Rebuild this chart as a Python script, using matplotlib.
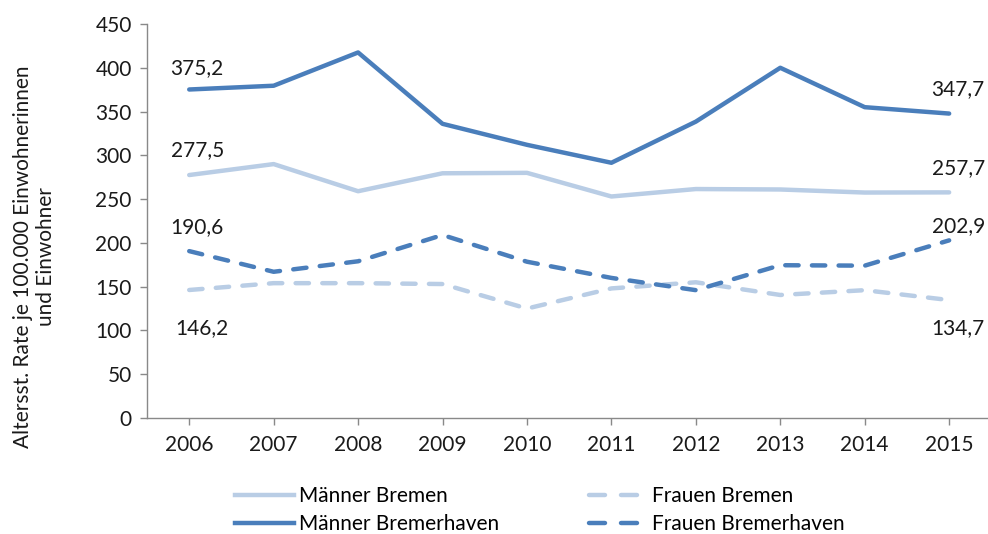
import matplotlib
matplotlib.use('Agg')
import matplotlib.pyplot as plt
from matplotlib.lines import Line2D

years = [2006, 2007, 2008, 2009, 2010, 2011, 2012, 2013, 2014, 2015]

maenner_bremen = [277.5, 290, 259, 279.5, 280, 253, 261.5, 261, 257.5, 257.7]
frauen_bremen = [146.2, 154, 154, 153, 125, 148, 155, 140.5, 146, 134.7]
maenner_bremerhaven = [375.2, 379.5, 417.5, 336, 312, 291.5, 338.5, 400, 355, 347.7]
frauen_bremerhaven = [190.6, 167, 179, 209, 178.5, 160, 146, 174.5, 174, 202.9]

yticks = [0, 50, 100, 150, 200, 250, 300, 350, 400, 450]

dark = '#4a7ebb'
light = '#b9cde5'
grey = '#898989'
txt = '#1a1a1a'

plt.rcParams['font.family'] = ['Lato', 'DejaVu Sans']
fs = 15

fig = plt.figure(figsize=(9.88, 5.34), dpi=100)
ax = fig.add_axes([147 / 988, 1 - 418 / 534, 841 / 988, 394 / 534])

lw = 3.2
dash = (3.0, 3.0)
ax.plot(years, maenner_bremen, color=light, lw=lw, solid_capstyle='round')
ax.plot(years, frauen_bremen, color=light, lw=lw, dashes=dash,
        dash_capstyle='round')
ax.plot(years, maenner_bremerhaven, color=dark, lw=lw, solid_capstyle='round')
ax.plot(years, frauen_bremerhaven, color=dark, lw=lw, dashes=dash,
        dash_capstyle='round')


def fmt(v):
    return f'{v:.1f}'.replace('.', ',')


# start / end labels (offsets in pixels)
start_offsets = [
    (maenner_bremerhaven, 8, 21),
    (maenner_bremen, 8, 25),
    (frauen_bremerhaven, 8, 24),
    (frauen_bremen, 13, -38),
]
for series, dx, dy in start_offsets:
    ax.annotate(fmt(series[0]), (years[0], series[0]), xytext=(dx, dy),
                textcoords='offset pixels', ha='center', va='center',
                fontsize=fs, color=txt)
end_offsets = [
    (maenner_bremerhaven, 9, 24),
    (maenner_bremen, 9, 24),
    (frauen_bremerhaven, 9, 14),
    (frauen_bremen, 9, -28),
]
for series, dx, dy in end_offsets:
    ax.annotate(fmt(series[-1]), (years[-1], series[-1]), xytext=(dx, dy),
                textcoords='offset pixels', ha='center', va='center',
                fontsize=fs, color=txt)

ax.set_xlim(2005.5, 2015.46)
ax.set_ylim(0, 450)
ax.set_xticks(years)
ax.set_yticks(yticks)
ax.tick_params(axis='both', labelsize=fs, colors=grey, labelcolor=txt,
               length=5, width=1)
ax.tick_params(axis='x', pad=7)
ax.tick_params(axis='y', pad=6)
for side in ['top', 'right']:
    ax.spines[side].set_visible(False)
for side in ['left', 'bottom']:
    ax.spines[side].set_color(grey)
    ax.spines[side].set_linewidth(1)

ax.set_ylabel('Altersst. Rate je 100.000 Einwohnerinnen\nund Einwohner',
              fontsize=fs, color=txt, linespacing=1.15)
ax.yaxis.set_label_coords(-0.134, 0.41)
ax.yaxis.label.set_va('center')

# legend
handles = [
    Line2D([], [], color=light, lw=lw),
    Line2D([], [], color=dark, lw=lw),
    Line2D([], [], color=light, lw=lw, dashes=(3.6, 3.6), dash_capstyle='round'),
    Line2D([], [], color=dark, lw=lw, dashes=(3.6, 3.6), dash_capstyle='round'),
]
names = ['Männer Bremen', 'Männer Bremerhaven', 'Frauen Bremen',
         'Frauen Bremerhaven']
fig.legend(handles, names, ncol=2, loc='lower left',
           bbox_to_anchor=(227 / 988, -0.016), frameon=False, fontsize=fs,
           handlelength=2.8, handletextpad=0.25, columnspacing=4.3,
           labelspacing=0.4, borderaxespad=0)

fig.savefig('out.png', dpi=100)
